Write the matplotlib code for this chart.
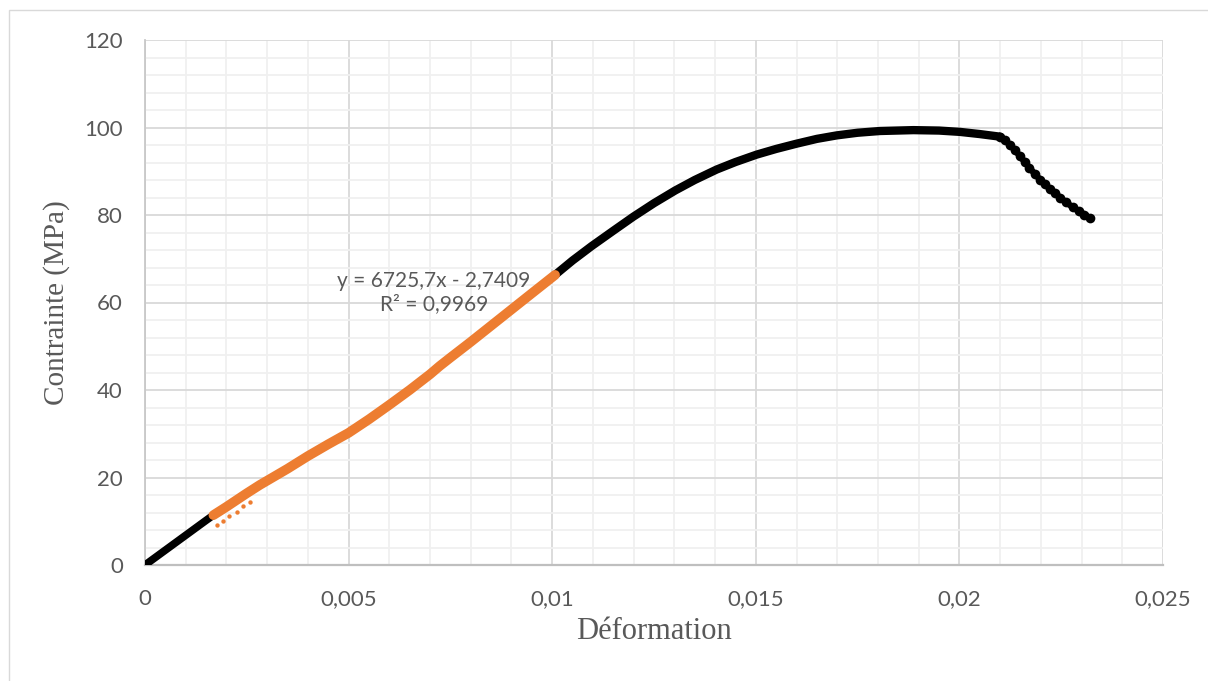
import matplotlib
matplotlib.use("Agg")
import matplotlib.pyplot as plt
from matplotlib.ticker import MultipleLocator, FuncFormatter
from matplotlib.patches import Rectangle

# ---- data ----
elastic_start_strain = [0.0, 0.0005, 0.0010, 0.0015, 0.00168]
elastic_start_stress = [0.0, 3.4, 6.8, 10.2, 11.4]

fit_strain = [0.00168, 0.0020, 0.0025, 0.00282, 0.0035, 0.0040, 0.0045, 0.0050,
              0.0055, 0.0060, 0.0065, 0.0070, 0.00724, 0.0075, 0.0080, 0.0085,
              0.0090, 0.0095, 0.01007]
fit_stress = [11.4, 13.3, 16.4, 18.3, 22.0, 24.9, 27.6, 30.2,
              33.3, 36.6, 40.0, 43.6, 45.5, 47.4, 51.0, 54.7,
              58.4, 62.1, 66.3]

outlier_strain = [0.00176, 0.00192, 0.00207, 0.00225, 0.00241, 0.00258]
outlier_stress = [9.1, 10.1, 11.3, 12.2, 13.5, 14.4]

rest_strain = [0.01007, 0.0105, 0.01097, 0.0115, 0.01199, 0.0125, 0.01302, 0.0135,
               0.01404, 0.0145, 0.01502, 0.0155, 0.0160, 0.0165, 0.01699, 0.0175,
               0.01805, 0.01887, 0.0195, 0.02001, 0.0205, 0.0210]
rest_stress = [66.3, 69.6, 72.9, 76.4, 79.6, 82.7, 85.6, 88.0,
               90.4, 92.1, 93.8, 95.1, 96.3, 97.4, 98.2, 98.8,
               99.2, 99.4, 99.3, 99.0, 98.5, 97.9]

tail_strain = [0.0210, 0.02112, 0.02124, 0.02137, 0.02149, 0.02160, 0.02172, 0.02185,
               0.02198, 0.02210, 0.02222, 0.02235, 0.02247, 0.02262, 0.02278, 0.02293,
               0.02307, 0.02321]
tail_stress = [97.9, 97.1, 96.0, 94.8, 93.4, 92.2, 90.8, 89.4,
               88.1, 87.0, 86.0, 85.0, 84.0, 82.9, 81.8, 80.9,
               80.1, 79.3]

x_ticks = [0, 0.005, 0.01, 0.015, 0.02, 0.025]
y_ticks = [0, 20, 40, 60, 80, 100, 120]
equation_text = "y = 6725,7x - 2,7409\nR² = 0,9969"

# ---- figure ----
fig = plt.figure(figsize=(12.08, 6.81), dpi=100)
fig.patches.append(Rectangle((9 / 1208, -0.05), 1.2, 1 - 10 / 681 + 0.05,
                             transform=fig.transFigure, fill=False,
                             edgecolor="#d9d9d9", linewidth=1.0))
ax = fig.add_axes([145 / 1208, 1 - 565 / 681, (1163 - 145) / 1208, (565 - 40) / 681])

black = "#000000"
orange = "#ED7D31"

ax.plot(elastic_start_strain, elastic_start_stress, color=black, lw=5.5,
        solid_capstyle="round", zorder=3)
ax.plot(rest_strain, rest_stress, color=black, lw=6.0, solid_capstyle="round",
        solid_joinstyle="round", zorder=3)
ax.plot(tail_strain, tail_stress, color=black, lw=4.5, marker="o", ms=7,
        markeredgewidth=0, zorder=3)
ax.plot(fit_strain, fit_stress, color=orange, lw=7.0, solid_capstyle="round",
        solid_joinstyle="round", zorder=4)
ax.scatter(outlier_strain, outlier_stress, s=10, color=orange, zorder=4, linewidths=0)

ax.set_xlim(0, 0.025)
ax.set_ylim(0, 120)
ax.set_xticks(x_ticks)
ax.set_yticks(y_ticks)
ax.xaxis.set_minor_locator(MultipleLocator(0.001))
ax.yaxis.set_minor_locator(MultipleLocator(4))

def fr(v, pos):
    return ("%g" % v).replace(".", ",")

ax.xaxis.set_major_formatter(FuncFormatter(fr))
ax.yaxis.set_major_formatter(FuncFormatter(fr))

ax.grid(which="major", color="#d9d9d9", lw=1.3, zorder=1)
ax.grid(which="minor", color="#f0f0f0", lw=1.3, zorder=0)
ax.set_axisbelow(True)

for s in ["top", "right"]:
    ax.spines[s].set_visible(False)
ax.spines["left"].set_color("#c8c8c8")
ax.spines["left"].set_linewidth(1.3)
ax.spines["bottom"].set_color("#bfbfbf")
ax.spines["bottom"].set_linewidth(1.6)

ax.tick_params(which="both", length=0)
ax.tick_params(axis="y", pad=16)
ax.tick_params(axis="x", pad=17)
for lab in ax.get_xticklabels() + ax.get_yticklabels():
    lab.set_family("Lato")
    lab.set_fontsize(16)
    lab.set_color("#595959")

ax.set_xlabel("Déformation", family="Liberation Serif", fontsize=22, color="#595959",
              labelpad=6)
ax.set_ylabel("Contrainte (MPa)", family="Liberation Serif", fontsize=21, color="#595959",
              labelpad=10)

ax.text(0.00709, 62.2, equation_text, family="Lato", fontsize=15, color="#595959",
        ha="center", va="center", multialignment="center", linespacing=1.2, zorder=5)

fig.savefig("out.png", dpi=100)
